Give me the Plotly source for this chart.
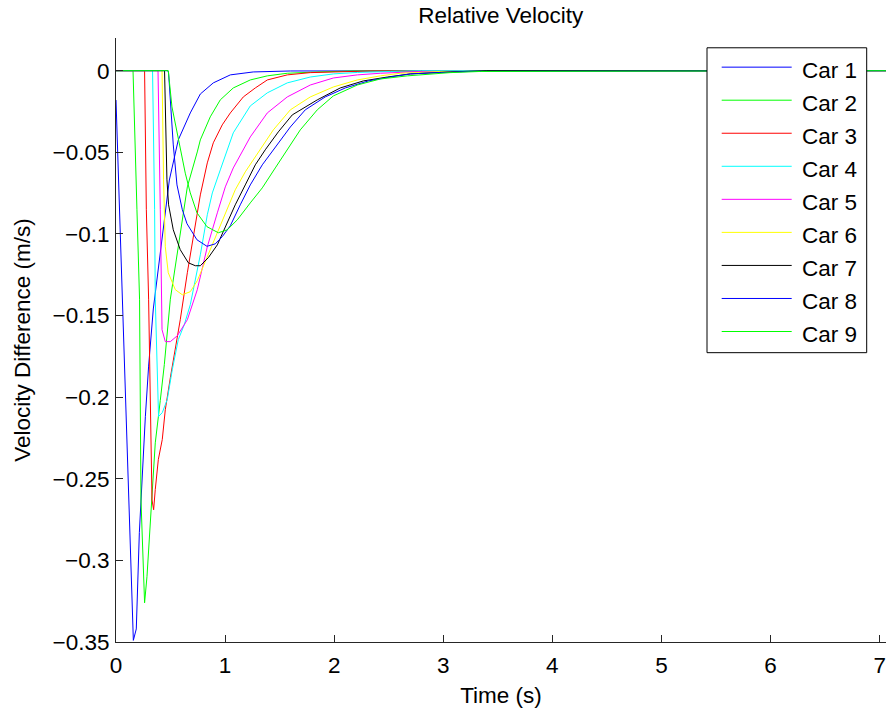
import plotly.graph_objects as go

# ---------------- data (time in s, relative velocity in m/s) ----------------
car_names = ["Car 1", "Car 2", "Car 3", "Car 4", "Car 5", "Car 6", "Car 7", "Car 8", "Car 9"]
car_colors = ["#0000ff", "#00ff00", "#ff0000", "#00ffff", "#ff00ff",
              "#ffff00", "#000000", "#0000ff", "#00ff00"]

car1_t = [0.0, 0.021, 0.039, 0.067, 0.101, 0.131, 0.159, 0.186, 0.214, 0.269, 0.299, 0.342,
          0.406, 0.489, 0.571, 0.681, 0.773, 0.892, 1.048, 1.258, 1.598, 7.1]
car1_v = [-0.018, -0.061, -0.104, -0.165, -0.238, -0.299, -0.349, -0.342, -0.283, -0.212, -0.181, -0.146,
          -0.110, -0.067, -0.0424, -0.0259, -0.0143, -0.0075, -0.0026, -0.0008, -0.0002, 0.0]

car2_t = [0.0, 0.156, 0.192, 0.216, 0.229, 0.253, 0.262, 0.284, 0.314, 0.360, 0.406, 0.443, 0.498,
          0.571, 0.654, 0.745, 0.773, 0.864, 0.956, 1.075, 1.231, 1.387, 1.570, 1.781, 2.148, 7.1]
car2_v = [0.0, 0.0, -0.0852, -0.140, -0.263, -0.318, -0.326, -0.310, -0.279, -0.228, -0.202, -0.180, -0.140,
          -0.107, -0.0712, -0.0498, -0.0424, -0.0283, -0.0179, -0.0106, -0.0057, -0.0032, -0.0016, -0.001, -0.0002, 0.0]

car3_t = [0.0, 0.262, 0.278, 0.299, 0.330, 0.345, 0.360, 0.388, 0.424, 0.452, 0.498, 0.544, 0.589,
          0.654, 0.727, 0.773, 0.837, 0.892, 0.974, 1.048, 1.167, 1.277, 1.387, 1.570, 1.781, 1.964, 2.331, 7.1]
car3_v = [0.0, 0.0, -0.0852, -0.140, -0.263, -0.269, -0.2566, -0.2382, -0.226, -0.2077, -0.1881, -0.1709, -0.1526,
          -0.1238, -0.0956, -0.0761, -0.0565, -0.0442, -0.0332, -0.0259, -0.0161, -0.0106, -0.0057, -0.0026,
          -0.0012, -0.0008, -0.0002, 0.0]

car4_t = [0.0, 0.335, 0.354, 0.360, 0.390, 0.424, 0.470, 0.516, 0.571, 0.626, 0.681, 0.773, 0.837,
          0.883, 0.956, 1.075, 1.231, 1.387, 1.570, 1.781, 1.992, 2.212, 2.514, 2.8, 7.1]
car4_v = [0.0, 0.0, -0.0852, -0.140, -0.2119, -0.2095, -0.2015, -0.1832, -0.1648, -0.1556, -0.1434, -0.1128, -0.0883,
          -0.0749, -0.0608, -0.0381, -0.0216, -0.0136, -0.0075, -0.0039, -0.002, -0.0011, -0.0005, 0.0, 0.0]

car5_t = [0.0, 0.385, 0.406, 0.422, 0.422, 0.452, 0.498, 0.562, 0.654, 0.745, 0.837, 0.929, 1.002,
          1.075, 1.158, 1.231, 1.387, 1.570, 1.781, 1.992, 2.212, 2.423, 2.789, 7.1]
car5_v = [0.0, 0.0, -0.0852, -0.140, -0.1587, -0.166, -0.166, -0.1624, -0.1526, -0.1342, -0.1079, -0.0871, -0.0712,
          -0.0596, -0.0498, -0.0406, -0.0259, -0.0161, -0.0088, -0.0045, -0.0026, -0.0016, -0.0005, 0.0]

car6_t = [0.0, 0.422, 0.436, 0.452, 0.479, 0.544, 0.608, 0.681, 0.745, 0.837, 0.929, 1.002, 1.093,
          1.185, 1.304, 1.442, 1.598, 1.781, 1.992, 2.212, 2.423, 2.606, 2.973, 7.1]
car6_v = [0.0, 0.0, -0.0669, -0.1079, -0.1238, -0.1342, -0.1373, -0.1354, -0.1287, -0.1140, -0.0987, -0.0865, -0.0730,
          -0.0620, -0.0498, -0.0363, -0.0240, -0.0161, -0.0100, -0.0057, -0.0032, -0.0016, -0.0005, 0.0]

car7_t = [0.0, 0.445, 0.467, 0.482, 0.525, 0.589, 0.663, 0.727, 0.773, 0.846, 0.929, 1.002, 1.093,
          1.185, 1.277, 1.368, 1.488, 1.616, 1.845, 2.056, 2.267, 2.487, 2.698, 3.064, 3.4, 7.1]
car7_v = [0.0, 0.0, -0.0669, -0.0822, -0.0975, -0.1097, -0.1177, -0.1195, -0.1195, -0.1146, -0.1067, -0.0956, -0.0822,
          -0.0700, -0.0577, -0.0485, -0.0375, -0.0271, -0.0179, -0.0106, -0.0063, -0.0039, -0.0020, -0.0008, 0.0, 0.0]

car8_t = [0.0, 0.475, 0.482, 0.502, 0.525, 0.559, 0.608, 0.651, 0.742, 0.834, 0.910, 0.974, 1.048,
          1.139, 1.231, 1.341, 1.460, 1.598, 1.735, 1.918, 2.102, 2.313, 2.514, 2.698, 2.973, 3.247, 7.1]
car8_v = [0.0, 0.0, -0.0014, -0.024, -0.0455, -0.070, -0.0852, -0.0938, -0.1036, -0.1076, -0.1061, -0.1017, -0.0950,
          -0.0822, -0.0700, -0.0577, -0.0467, -0.0345, -0.0240, -0.0161, -0.0106, -0.0063, -0.0039, -0.0020,
          -0.0011, -0.0005, 0.0]

car9_t = [0.0, 0.479, 0.513, 0.574, 0.635, 0.681, 0.742, 0.834, 0.938, 1.020, 1.112, 1.231, 1.341,
          1.460, 1.598, 1.689, 1.845, 1.992, 2.212, 2.423, 2.670, 2.881, 3.064, 3.339, 7.1]
car9_v = [0.0, 0.0, -0.0222, -0.0424, -0.0628, -0.0749, -0.0871, -0.0956, -0.0993, -0.0975, -0.0914, -0.0810, -0.0718,
          -0.0596, -0.0455, -0.0363, -0.0240, -0.0155, -0.0088, -0.0051, -0.0032, -0.0020, -0.0012, -0.0005, 0.0]

car_t = [car1_t, car2_t, car3_t, car4_t, car5_t, car6_t, car7_t, car8_t, car9_t]
car_v = [car1_v, car2_v, car3_v, car4_v, car5_v, car6_v, car7_v, car8_v, car9_v]

x_ticks = [0, 1, 2, 3, 4, 5, 6, 7]
y_ticks = [0, -0.05, -0.1, -0.15, -0.2, -0.25, -0.3, -0.35]

title_text = "Relative Velocity"
x_title = "Time (s)"
y_title = "Velocity Difference (m/s)"

# ---------------- layout constants (pixels) ----------------
W, H = 886, 708
ML, MR, MT, MB = 116, 0, 37.5, 65.5
PW, PH = W - ML - MR, H - MT - MB
FONT = "Liberation Sans, Arial, Helvetica, sans-serif"
FS = 22.5
AX = "#262626"


def paper_x(px):
    return (px - ML) / PW


def paper_y(py):
    return (H - MB - py) / PH


fig = go.Figure()
for name, color, t, v in zip(car_names, car_colors, car_t, car_v):
    fig.add_trace(go.Scatter(x=t, y=v, mode="lines", name=name,
                             line=dict(color=color, width=1)))

# manual MATLAB-like legend box
shapes = [dict(type="rect", xref="paper", yref="paper",
               x0=paper_x(707), x1=paper_x(866.7), y0=paper_y(352.7), y1=paper_y(47.3),
               fillcolor="white", line=dict(color="black", width=1), layer="above")]
annotations = []
for i, (name, color) in enumerate(zip(car_names, car_colors)):
    ly = 66.7 + 33.1 * i
    shapes.append(dict(type="line", xref="paper", yref="paper",
                       x0=paper_x(721.7), x1=paper_x(791.7), y0=paper_y(ly), y1=paper_y(ly),
                       line=dict(color=color, width=1), layer="above"))
    annotations.append(dict(text=name, xref="paper", yref="paper", x=paper_x(800), y=paper_y(ly + 3.3),
                            xanchor="left", yanchor="middle", showarrow=False,
                            font=dict(family=FONT, size=FS, color="black")))

fig.update_layout(
    width=W, height=H,
    margin=dict(l=ML, r=MR, t=MT, b=MB),
    paper_bgcolor="white", plot_bgcolor="white",
    showlegend=False,
    font=dict(family=FONT, size=FS, color="black"),
    title=dict(text=title_text, x=500.8 / W, xanchor="center", xref="container",
               y=1 - 15 / H, yanchor="middle", yref="container",
               font=dict(family=FONT, size=FS, color="black")),
    shapes=shapes,
    annotations=annotations,
)
fig.update_xaxes(range=[0, PW / 109.09], tickvals=x_ticks, ticks="inside", ticklen=7,
                 tickcolor=AX, tickwidth=1, showline=True, linecolor=AX, linewidth=1,
                 showgrid=False, zeroline=False, mirror=False, ticklabelstandoff=3,
                 title=dict(text=x_title, standoff=10, font=dict(family=FONT, size=FS)))
fig.update_yaxes(range=[-0.35, 0.02], tickvals=y_ticks, ticks="inside", ticklen=7,
                 tickcolor=AX, tickwidth=1, showline=True, linecolor=AX, linewidth=1,
                 showgrid=False, zeroline=False, mirror=False, ticklabelstandoff=1,
                 title=dict(text=y_title, standoff=15, font=dict(family=FONT, size=FS)))

fig.write_html("out.html")
